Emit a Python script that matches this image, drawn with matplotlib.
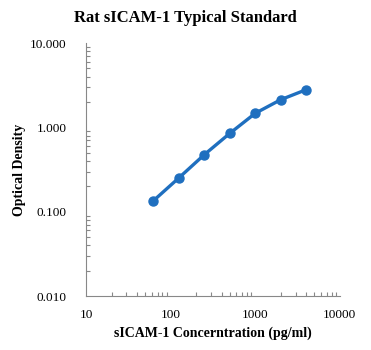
import numpy as np
from matplotlib import pyplot as plt
import matplotlib.ticker as plticker

# Standard curve data
conc = [62.5, 125, 250, 500, 1000, 2000, 4000]
od = [0.135, 0.252, 0.475, 0.85, 1.47, 2.13, 2.8]
xticks = [10, 100, 1000, 10000]
xlabels = ["10", "100", "1000", "10000"]
yticks = [0.01, 0.1, 1, 10]
ylabels = ["0.010", "0.100", "1.000", "10.000"]

plt.rcParams['font.family'] = ["Liberation Serif", "DejaVu Serif"]

fig = plt.figure(figsize=(3.71, 3.5), dpi=100)
ax = fig.add_axes([0.232, 0.154, 0.684, 0.723])

ax.plot(conc, od, "-o", color="#1F6FBF", lw=2.4, ms=6.5)

ax.set_xscale("log")
ax.set_yscale("log")
ax.set_xlim(10, 10000)
ax.set_ylim(0.01, 10)
ax.set_xticks(xticks)
ax.set_xticklabels(xlabels)
ax.set_yticks(yticks)
ax.set_yticklabels(ylabels)
ax.xaxis.set_minor_locator(plticker.LogLocator(base=10, subs=np.arange(2, 10)))
ax.yaxis.set_minor_locator(plticker.LogLocator(base=10, subs=np.arange(2, 10)))
ax.xaxis.set_minor_formatter(plticker.NullFormatter())
ax.yaxis.set_minor_formatter(plticker.NullFormatter())
ax.tick_params(which="major", length=0, labelsize=9.5)
ax.tick_params(axis="x", which="major", pad=9)
ax.tick_params(axis="y", which="major", pad=14)
ax.tick_params(which="minor", direction="in", length=3, color="#888888", width=0.8)

for s in ["top", "right"]:
    ax.spines[s].set_visible(False)
for s in ["left", "bottom"]:
    ax.spines[s].set_color("#888888")

ax.set_xlabel("sICAM-1 Concerntration (pg/ml)", fontweight="bold", fontsize=10, labelpad=4)
ax.set_ylabel("Optical Density", fontweight="bold", fontsize=10, labelpad=3)
fig.text(0.5, 0.95, "Rat sICAM-1 Typical Standard", ha="center", va="center",
         fontweight="bold", fontsize=12)

plt.savefig("out.png", dpi=100)
